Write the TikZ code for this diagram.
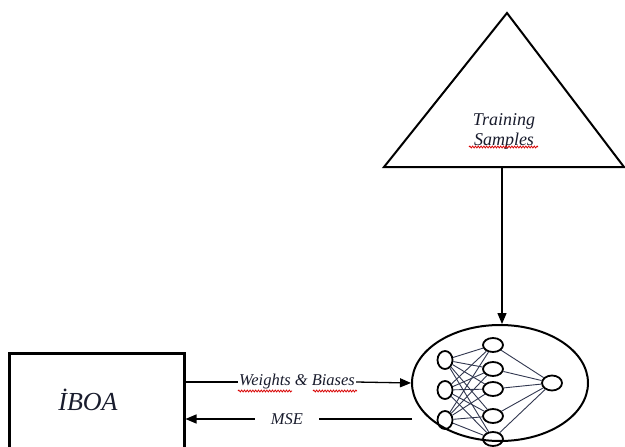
\documentclass[tikz,border=0pt]{standalone}
\usepackage{fontspec}
\setmainfont{Liberation Serif}
\usetikzlibrary{arrows.meta,shapes.geometric,decorations.pathmorphing}
\begin{document}
\begin{tikzpicture}[x=1pt,y=-1pt,
  shapeline/.style={draw=black,line width=2pt},
  neuron/.style={draw=black,line width=1.8pt,ellipse,inner sep=0pt},
  syn/.style={draw={rgb,255:red,50;green,56;blue,80},line width=0.9pt},
  flow/.style={draw=black,line width=1.3pt},
  tip/.style={-{Triangle[length=11pt,width=9pt]}},
  lbl/.style={font=\itshape\fontsize{16.5}{18}\selectfont,text={rgb,255:red,25;green,28;blue,45},inner sep=1pt},
  squiggle/.style={draw=red!85!black,line width=0.8pt,decorate,decoration={snake,amplitude=0.9pt,segment length=2.8pt}}
]
\useasboundingbox (0,0) rectangle (625,447);
\fill[white] (0,0) rectangle (625,447);

% triangle
\draw[shapeline,line join=miter] (507,13) -- (624,167) -- (384,167) -- cycle;
\node[lbl,font=\itshape\fontsize{18}{20}\selectfont,align=center,inner sep=0pt] (train) at (504,131) {Training\\Samples};
\coordinate (tb) at (502,167);

% network ellipse
\node[ellipse,shapeline,minimum width=176pt,minimum height=116pt,inner sep=0pt] (nn) at (500,383) {};
\foreach \n/\y in {1/360,2/390,3/420}
  \node[neuron,minimum width=15pt,minimum height=18pt] (i\n) at (445,\y) {};
\foreach \n/\y in {1/345,2/369,3/389,4/416,5/439}
  \node[neuron,minimum width=20pt,minimum height=14pt] (h\n) at (493,\y) {};
\node[neuron,minimum width=20pt,minimum height=15pt] (o) at (552,383) {};
\foreach \a in {1,2,3}
  \foreach \b in {1,...,5}
    \draw[syn] (i\a) -- (h\b);
\foreach \b in {1,...,5}
  \draw[syn] (h\b) -- (o);

% IBOA box
\node[draw=black,line width=2.5pt,minimum width=175pt,minimum height=100pt,anchor=north west,inner sep=0pt] (iboa) at (8,352) {};
\node[lbl,font=\itshape\fontsize{26}{30}\selectfont,inner sep=0pt] (iboalbl) at (88,400) {İBOA};

% arrows
\draw[flow,tip] (tb) -- (tb |- nn.north);
\node[lbl,inner xsep=1pt] (wb) at (297,382) {Weights \& Biases};
\draw[flow] (iboa.east |- wb) -- (wb.west);
\draw[flow,tip] (wb.east) -- (nn.west);
\node[lbl,inner xsep=16pt] (mse) at (287,419) {MSE};
\coordinate (mr) at (412,419);
\draw[flow] (mr) -- (mse.east);
\draw[flow,tip] (mse.west) -- (iboa.east |- mse);

% spell-check squiggles
\draw[squiggle] (238,391) -- (292,391);
\draw[squiggle] (313,391) -- (357,391);
\draw[squiggle] (469,147) -- (538,147);
\end{tikzpicture}
\end{document}
